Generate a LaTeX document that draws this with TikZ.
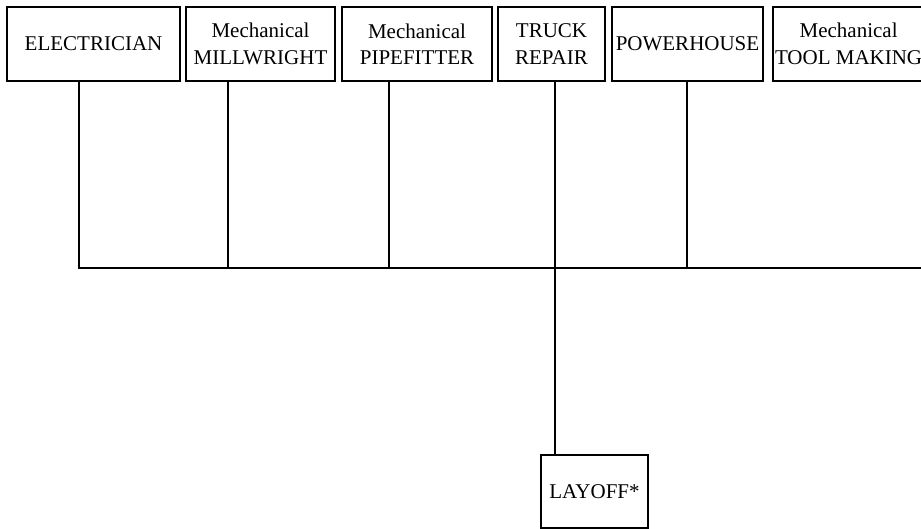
\documentclass[tikz,border=0pt]{standalone}
\usepackage{fontspec}
\setmainfont{Liberation Serif}
\usetikzlibrary{positioning}

\begin{document}
\begin{tikzpicture}[
        x=1pt, y=-1pt,
        trade/.style={rectangle, draw=black, line width=1.3pt, minimum height=74pt, inner sep=2pt, outer sep=0pt, align=center, font=\fontsize{21}{26.5}\selectfont},
        link/.style={draw=black, line width=1.2pt}
    ]
        \useasboundingbox (0,0) rectangle (921,529);

        % Trade boxes along the top
        \node[trade, minimum width=173pt] (elec) at (93.5,44) {ELECTRICIAN};
        \node[trade, minimum width=149pt, right=6pt of elec] (mill) {Mechanical\\MILLWRIGHT};
        \node[trade, minimum width=150pt, right=7pt of mill] (pipe) {Mechanical\\PIPEFITTER};
        \node[trade, minimum width=107pt, right=6pt of pipe] (truck) {TRUCK\\REPAIR};
        \node[trade, minimum width=151pt, right=7pt of truck] (power) {POWERHOUSE};
        \node[trade, minimum width=151pt, right=10pt of power] (tool) {Mechanical\\TOOL MAKING};

        % Layoff box
        \node[trade, minimum width=107pt, minimum height=73pt] (layoff) at (594.5,491.5) {LAYOFF*};

        % Junctions on the bus
        \coordinate (j1) at (79,268);
        \coordinate (j2) at (228,268);
        \coordinate (j3) at (389,268);
        \coordinate (j4) at (555,268);
        \coordinate (j5) at (687,268);
        \coordinate (busR) at (921,268);

        \draw[link] (elec.south -| j1) -- (j1) -- (busR);
        \draw[link] (mill.south -| j2) -- (j2);
        \draw[link] (pipe.south -| j3) -- (j3);
        \draw[link] (truck.south -| j4) -- (layoff.north -| j4);
        \draw[link] (power.south -| j5) -- (j5);
    \end{tikzpicture}
\end{document}
